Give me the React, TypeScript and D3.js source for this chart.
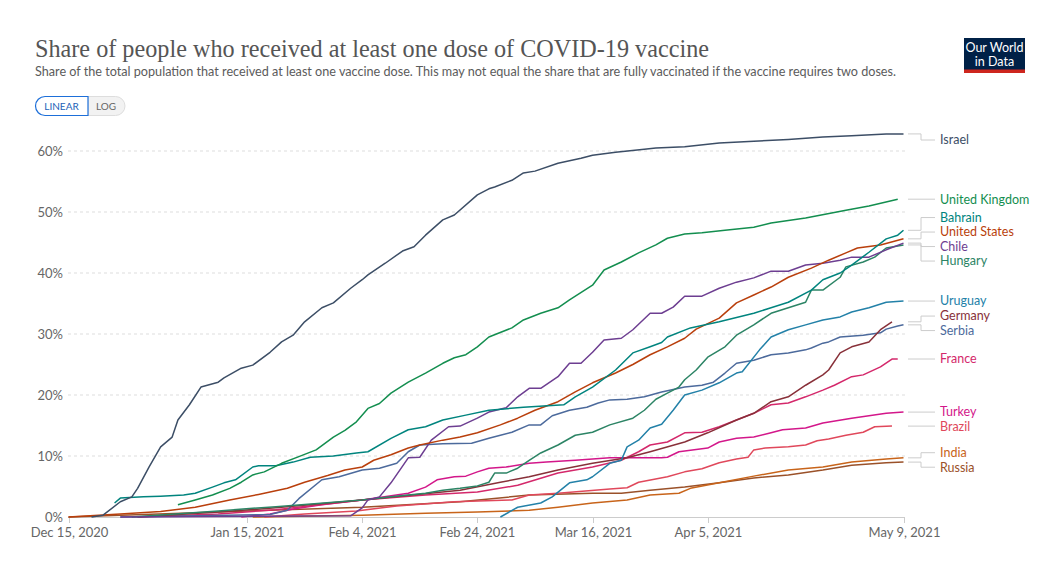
import React from "react";
import * as d3 from "d3";

type Pt = [string, number];

const israel: Pt[] = [["2020-12-19",0],["2020-12-21",0.3],["2020-12-24",2.5],["2020-12-26",3.3],["2020-12-27",4.7],["2020-12-29",8.2],["2020-12-31",11.5],["2021-01-02",13.1],["2021-01-03",15.9],["2021-01-05",18.4],["2021-01-07",21.3],["2021-01-10",22.1],["2021-01-11",22.8],["2021-01-14",24.4],["2021-01-16",24.9],["2021-01-19",27],["2021-01-21",28.7],["2021-01-23",29.8],["2021-01-25",32],["2021-01-28",34.3],["2021-01-30",35.1],["2021-02-02",37.5],["2021-02-04",38.9],["2021-02-05",39.7],["2021-02-08",41.6],["2021-02-11",43.6],["2021-02-13",44.3],["2021-02-15",46.2],["2021-02-18",48.7],["2021-02-20",49.5],["2021-02-24",52.8],["2021-02-26",53.8],["2021-02-27",54.1],["2021-03-02",55.2],["2021-03-04",56.4],["2021-03-06",56.7],["2021-03-10",58],["2021-03-14",58.8],["2021-03-16",59.3],["2021-03-20",59.8],["2021-03-25",60.3],["2021-03-27",60.5],["2021-04-01",60.7],["2021-04-07",61.3],["2021-04-13",61.6],["2021-04-19",61.9],["2021-04-25",62.3],["2021-04-30",62.5],["2021-05-06",62.8],["2021-05-09",62.8]];
const unitedKingdom: Pt[] = [["2021-01-03",2.0],["2021-01-06",2.8],["2021-01-09",3.6],["2021-01-12",4.7],["2021-01-14",5.7],["2021-01-16",6.9],["2021-01-18",7.4],["2021-01-21",8.8],["2021-01-24",9.9],["2021-01-27",11],["2021-01-30",13.1],["2021-02-01",14.2],["2021-02-03",15.6],["2021-02-05",17.8],["2021-02-07",18.6],["2021-02-09",20.3],["2021-02-12",22.1],["2021-02-15",23.6],["2021-02-18",25.2],["2021-02-20",26.1],["2021-02-22",26.6],["2021-02-24",27.9],["2021-02-26",29.5],["2021-03-02",31],["2021-03-04",32.3],["2021-03-07",33.4],["2021-03-10",34.3],["2021-03-12",35.6],["2021-03-16",38],["2021-03-18",40.5],["2021-03-21",41.8],["2021-03-24",43.3],["2021-03-27",44.6],["2021-03-29",45.7],["2021-04-01",46.4],["2021-04-04",46.6],["2021-04-08",47],["2021-04-13",47.5],["2021-04-16",48.2],["2021-04-22",49],["2021-04-29",50.3],["2021-05-03",51],["2021-05-08",52.1]];
const bahrain: Pt[] = [["2020-12-23",2.3],["2020-12-24",3.1],["2020-12-28",3.3],["2020-12-31",3.4],["2021-01-04",3.6],["2021-01-06",3.9],["2021-01-09",4.9],["2021-01-11",5.6],["2021-01-13",6.1],["2021-01-16",8.2],["2021-01-17",8.4],["2021-01-20",8.4],["2021-01-23",9],["2021-01-26",9.8],["2021-01-30",10],["2021-02-03",10.5],["2021-02-05",10.7],["2021-02-09",12.9],["2021-02-12",14.3],["2021-02-15",14.8],["2021-02-18",15.9],["2021-02-22",16.7],["2021-02-26",17.5],["2021-03-04",18],["2021-03-11",18.4],["2021-03-13",19.7],["2021-03-16",21.3],["2021-03-20",24.1],["2021-03-23",26.9],["2021-03-26",27.9],["2021-03-28",28.6],["2021-03-29",29.5],["2021-04-02",31],["2021-04-07",32],["2021-04-13",33.4],["2021-04-16",34.3],["2021-04-19",35.2],["2021-04-23",37.2],["2021-04-25",38.9],["2021-04-28",40],["2021-04-30",41.3],["2021-05-03",43.4],["2021-05-06",45.6],["2021-05-08",46.2],["2021-05-09",47]];
const unitedStates: Pt[] = [["2020-12-15",0],["2020-12-24",0.5],["2020-12-31",0.9],["2021-01-06",1.6],["2021-01-12",2.8],["2021-01-17",3.7],["2021-01-22",4.7],["2021-01-25",5.7],["2021-01-29",6.8],["2021-02-01",7.7],["2021-02-04",8.2],["2021-02-06",9.3],["2021-02-09",10.2],["2021-02-12",11.3],["2021-02-14",11.8],["2021-02-18",12.6],["2021-02-21",13.1],["2021-02-24",13.8],["2021-02-28",15.1],["2021-03-03",16.2],["2021-03-06",17.5],["2021-03-10",18.9],["2021-03-13",20.5],["2021-03-16",22],["2021-03-20",23.6],["2021-03-23",25],["2021-03-26",26.6],["2021-03-29",27.9],["2021-04-01",29.3],["2021-04-03",30.8],["2021-04-07",32.6],["2021-04-10",35.1],["2021-04-13",36.4],["2021-04-16",37.7],["2021-04-19",39.3],["2021-04-23",40.8],["2021-04-26",42.1],["2021-04-29",43.3],["2021-05-01",44.1],["2021-05-05",44.6],["2021-05-09",45.6]];
const chile: Pt[] = [["2020-12-24",0],["2021-02-02",0.2],["2021-02-04",1.5],["2021-02-05",2.8],["2021-02-07",3.3],["2021-02-09",5.6],["2021-02-12",9.7],["2021-02-14",9.8],["2021-02-16",12.6],["2021-02-19",14.8],["2021-02-21",14.9],["2021-02-24",16.2],["2021-02-26",17.2],["2021-03-01",17.9],["2021-03-03",19.7],["2021-03-05",21.1],["2021-03-07",21.1],["2021-03-10",23],["2021-03-12",25.2],["2021-03-14",25.2],["2021-03-16",27],["2021-03-18",29],["2021-03-21",29.3],["2021-03-23",30.7],["2021-03-26",33.4],["2021-03-28",33.4],["2021-03-30",34.4],["2021-04-01",36.2],["2021-04-04",36.2],["2021-04-07",37.5],["2021-04-10",38.5],["2021-04-13",39.2],["2021-04-16",40.3],["2021-04-19",40.3],["2021-04-22",41.3],["2021-04-25",41.6],["2021-04-28",42.1],["2021-04-30",42.6],["2021-05-03",42.6],["2021-05-06",43.8],["2021-05-09",44.9]];
const hungary: Pt[] = [["2020-12-26",0],["2021-01-10",1],["2021-01-20",1.7],["2021-02-04",2.8],["2021-02-09",3.3],["2021-02-15",3.9],["2021-02-18",4.4],["2021-02-21",4.7],["2021-02-24",5.1],["2021-02-26",5.7],["2021-02-27",7.2],["2021-03-01",7.2],["2021-03-03",8],["2021-03-05",9.3],["2021-03-07",10.5],["2021-03-10",11.8],["2021-03-13",13.4],["2021-03-16",13.9],["2021-03-19",15.1],["2021-03-23",16.2],["2021-03-25",17.5],["2021-03-27",19.3],["2021-03-29",20.3],["2021-03-31",21.3],["2021-04-01",22.5],["2021-04-03",24.1],["2021-04-05",26.2],["2021-04-08",27.9],["2021-04-10",29.8],["2021-04-13",31.5],["2021-04-16",33.4],["2021-04-19",34.3],["2021-04-22",35.2],["2021-04-23",37.2],["2021-04-25",37.2],["2021-04-28",39.3],["2021-04-29",41],["2021-05-02",41.8],["2021-05-04",42.6],["2021-05-06",44.1],["2021-05-09",44.6]];
const uruguay: Pt[] = [["2021-02-28",0],["2021-03-03",1.6],["2021-03-07",2.3],["2021-03-09",3.3],["2021-03-12",5.6],["2021-03-15",6.1],["2021-03-16",6.6],["2021-03-19",8.8],["2021-03-21",9.3],["2021-03-22",11.5],["2021-03-24",12.6],["2021-03-26",14.6],["2021-03-28",15.2],["2021-03-30",17.5],["2021-04-01",20],["2021-04-04",20.8],["2021-04-07",22],["2021-04-10",23.6],["2021-04-11",23.8],["2021-04-14",27.4],["2021-04-16",29.5],["2021-04-19",30.7],["2021-04-22",31.5],["2021-04-25",32.3],["2021-04-28",32.8],["2021-04-30",33.6],["2021-05-03",34.3],["2021-05-06",35.2],["2021-05-09",35.4]];
const germany: Pt[] = [["2020-12-27",0],["2021-01-10",0.8],["2021-01-20",1.5],["2021-02-04",2.8],["2021-02-21",4.4],["2021-02-28",5.7],["2021-03-05",6.6],["2021-03-10",7.7],["2021-03-16",8.8],["2021-03-22",9.7],["2021-03-26",10.7],["2021-04-01",12.3],["2021-04-05",13.8],["2021-04-10",15.9],["2021-04-13",17],["2021-04-16",18.9],["2021-04-19",19.7],["2021-04-22",21.6],["2021-04-25",23.3],["2021-04-26",24.1],["2021-04-28",26.9],["2021-04-30",27.9],["2021-05-03",28.7],["2021-05-05",30.7],["2021-05-07",32]];
const serbia: Pt[] = [["2020-12-24",0],["2021-01-19",0.4],["2021-01-22",1.1],["2021-01-24",3.0],["2021-01-28",6.1],["2021-01-31",6.6],["2021-02-04",7.7],["2021-02-07",8],["2021-02-10",8.8],["2021-02-12",10.7],["2021-02-14",11.8],["2021-02-18",12],["2021-02-23",12.1],["2021-02-26",12.9],["2021-02-28",13.4],["2021-03-02",13.9],["2021-03-05",15.1],["2021-03-07",15.1],["2021-03-09",16.6],["2021-03-12",17.5],["2021-03-15",18],["2021-03-17",18.7],["2021-03-19",19.2],["2021-03-22",19.3],["2021-03-25",19.7],["2021-03-28",20.5],["2021-04-01",21.3],["2021-04-04",21.6],["2021-04-06",22.1],["2021-04-08",23.6],["2021-04-10",25.2],["2021-04-13",25.7],["2021-04-16",26.6],["2021-04-19",26.9],["2021-04-22",27.4],["2021-04-23",27.7],["2021-04-25",28.5],["2021-04-26",28.7],["2021-04-28",29.5],["2021-05-02",29.8],["2021-05-05",30.2],["2021-05-06",30.8],["2021-05-08",31.3],["2021-05-09",31.5]];
const france: Pt[] = [["2020-12-27",0],["2021-01-10",0.5],["2021-01-20",1.2],["2021-02-04",2.8],["2021-02-15",3.6],["2021-02-24",4.1],["2021-03-03",5.2],["2021-03-10",7.2],["2021-03-16",8.2],["2021-03-21",9.3],["2021-03-24",10.7],["2021-03-26",11.8],["2021-03-29",12.3],["2021-04-01",13.8],["2021-04-04",13.9],["2021-04-07",14.8],["2021-04-10",15.9],["2021-04-13",17],["2021-04-16",18.4],["2021-04-19",18.7],["2021-04-22",19.7],["2021-04-25",20.8],["2021-04-27",21.6],["2021-04-30",23],["2021-05-02",23.3],["2021-05-05",24.6],["2021-05-07",25.9],["2021-05-08",25.9]];
const turkey: Pt[] = [["2021-01-14",0],["2021-01-19",0.5],["2021-01-23",1.3],["2021-01-28",2],["2021-02-04",2.8],["2021-02-12",3.9],["2021-02-15",4.9],["2021-02-17",6.1],["2021-02-20",6.6],["2021-02-22",6.7],["2021-02-24",7.4],["2021-02-26",8],["2021-03-01",8.2],["2021-03-05",8.8],["2021-03-08",9],["2021-03-13",9.3],["2021-03-19",9.7],["2021-03-28",9.7],["2021-03-29",9.8],["2021-03-31",10.7],["2021-04-05",11.3],["2021-04-07",12.3],["2021-04-10",12.9],["2021-04-13",13.1],["2021-04-16",13.8],["2021-04-18",14.3],["2021-04-22",14.6],["2021-04-25",15.4],["2021-04-30",16.2],["2021-05-03",16.6],["2021-05-06",17],["2021-05-09",17.2]];
const brazil: Pt[] = [["2021-01-18",0],["2021-01-25",0.5],["2021-02-03",1.0],["2021-02-10",1.8],["2021-02-20",2.5],["2021-03-02",2.8],["2021-03-05",3.6],["2021-03-10",3.9],["2021-03-19",4.6],["2021-03-22",4.8],["2021-03-24",5.7],["2021-03-29",6.6],["2021-04-01",7.4],["2021-04-04",7.9],["2021-04-07",8.9],["2021-04-10",9.5],["2021-04-12",9.8],["2021-04-13",11],["2021-04-15",11.3],["2021-04-19",11.5],["2021-04-22",11.8],["2021-04-24",12.5],["2021-04-26",12.8],["2021-04-29",13.4],["2021-05-02",13.9],["2021-05-04",14.8],["2021-05-07",14.9]];
const india: Pt[] = [["2021-01-16",0],["2021-02-04",0.3],["2021-02-15",0.6],["2021-02-24",0.8],["2021-03-05",1.1],["2021-03-10",1.6],["2021-03-16",2.3],["2021-03-22",2.8],["2021-03-26",3.6],["2021-03-31",3.9],["2021-04-02",4.7],["2021-04-07",5.6],["2021-04-13",6.7],["2021-04-19",7.7],["2021-04-25",8.2],["2021-04-30",9],["2021-05-06",9.5],["2021-05-09",9.7]];
const russia: Pt[] = [["2020-12-15",0],["2021-02-04",1.6],["2021-02-21",2.5],["2021-03-05",3.6],["2021-03-16",3.9],["2021-03-21",3.9],["2021-03-26",4.4],["2021-04-01",4.9],["2021-04-07",5.6],["2021-04-13",6.4],["2021-04-19",6.9],["2021-04-25",7.7],["2021-04-30",8.5],["2021-05-06",8.9],["2021-05-09",9]];

const countryNames = ["Israel","United Kingdom","Bahrain","United States","Chile","Hungary","Uruguay","Germany","Serbia","France","Turkey","Brazil","India","Russia"];
const countryColors = ["#3C4E66","#138E4F","#00847E","#B93F0C","#6D3E91","#2C8465","#2381A8","#883039","#4C6A9C","#D4286B","#D3178A","#E0485B","#C8641A","#9A5129"];
const countryData = [israel, unitedKingdom, bahrain, unitedStates, chile, hungary, uruguay, germany, serbia, france, turkey, brazil, india, russia];

const yTicks = [0, 10, 20, 30, 40, 50, 60];
const xTickDates = ["2020-12-15","2021-01-15","2021-02-04","2021-02-24","2021-03-16","2021-04-05","2021-05-09"];

const titleText = "Share of people who received at least one dose of COVID-19 vaccine";
const subtitleText = "Share of the total population that received at least one vaccine dose. This may not equal the share that are fully vaccinated if the vaccine requires two doses.";

const parse = d3.timeParse("%Y-%m-%d");
const fmt = d3.timeFormat("%b %-d, %Y");
const FONT = "Lato, 'Noto Sans', sans-serif";

export default function App() {
  const x = d3.scaleTime().domain([parse("2020-12-15")!, parse("2021-05-09")!]).range([68.5, 903.5]);
  const y = d3.scaleLinear().domain([0, 60]).range([517, 151]);
  const line = d3.line<Pt>().x(d => x(parse(d[0])!)).y(d => y(d[1]));

  const series = countryNames.map((name, i) => ({ name, color: countryColors[i], data: countryData[i] }));

  // label layout: cluster-based collision avoidance
  const gap = 14.5;
  const items = series.map(s => ({ name: s.name, color: s.color, target: y(s.data[s.data.length - 1][1]), pos: 0 }));
  items.sort((a, b) => a.target - b.target);
  let clusters = items.map(it => ({ items: [it], center: it.target }));
  let changed = true;
  while (changed) {
    changed = false;
    for (let i = 1; i < clusters.length; i++) {
      const a = clusters[i - 1], b = clusters[i];
      const aBottom = a.center + (a.items.length - 1) * gap / 2;
      const bTop = b.center - (b.items.length - 1) * gap / 2;
      if (bTop - aBottom < gap) {
        const all = [...a.items, ...b.items];
        const c = d3.mean(all, d => d.target)!;
        clusters.splice(i - 1, 2, { items: all, center: c });
        changed = true;
        break;
      }
    }
  }
  clusters.forEach(c => {
    const start = c.center - (c.items.length - 1) * gap / 2;
    c.items.forEach((it, k) => { it.pos = start + k * gap; });
  });
  items.forEach(it => { if (it.pos < 140) it.pos = 140; });

  return (
    <svg width={1056} height={574} style={{ position: "absolute", left: 0, top: 0, background: "#fff" }} fontFamily={FONT}>
      <text x={35} y={57} fontFamily="'Liberation Serif', 'DejaVu Serif', serif" fontSize={25} fill="#555" textLength={674} lengthAdjust="spacingAndGlyphs">{titleText}</text>
      <text x={35} y={76} fontSize={12.5} fill="#5b5b5b" textLength={861} lengthAdjust="spacingAndGlyphs">{subtitleText}</text>

      <g>
        <path d="M88,96.5 L115.5,96.5 A9.5,9.5 0 0 1 115.5,115.5 L88,115.5 Z" fill="#f2f2f2" stroke="#ddd" />
        <path d="M88,96.5 L45,96.5 A9.5,9.5 0 0 0 45,115.5 L88,115.5 Z" fill="#fff" stroke="#1d6fd9" strokeWidth={1.2} />
        <text x={61.5} y={109.5} fontSize={10} fill="#1d5fb8" textAnchor="middle">LINEAR</text>
        <text x={106} y={109.5} fontSize={10} fill="#666" textAnchor="middle">LOG</text>
      </g>

      <g>
        <rect x={964} y={38} width={61} height={35} fill="#002147" />
        <rect x={964} y={69.5} width={61} height={3.5} fill="#ce261e" />
        <text x={994.5} y={52} fontSize={12.5} fill="#fff" textAnchor="middle">Our World</text>
        <text x={994.5} y={66} fontSize={12.5} fill="#fff" textAnchor="middle">in Data</text>
      </g>

      {yTicks.map(t => (
        <g key={t}>
          {t !== 0 && <line x1={68} x2={905} y1={y(t)} y2={y(t)} stroke="#ddd" strokeDasharray="3,3" />}
          <text x={63} y={y(t)} dy="0.35em" fontSize={13} fill="#666" textAnchor="end">{t}%</text>
        </g>
      ))}

      <line x1={68} x2={905} y1={517.5} y2={517.5} stroke="#ccc" />
      {xTickDates.map(d => {
        const xx = Math.round(x(parse(d)!)) + 0.5;
        return (
          <g key={d}>
            <line x1={xx} x2={xx} y1={517} y2={523} stroke="#ccc" />
            <text x={xx} y={537} fontSize={13} fill="#666" textAnchor="middle">{fmt(parse(d)!)}</text>
          </g>
        );
      })}

      {series.slice().reverse().map(s => (
        <path key={s.name} d={line(s.data) || ""} fill="none" stroke={s.color} strokeWidth={1.5} strokeLinejoin="round" />
      ))}

      {items.map(it => {
        const straight = Math.abs(it.pos - it.target) < 1;
        const dPath = straight
          ? `M908,${it.target} L935,${it.target}`
          : `M908,${it.target} L921,${it.target} L921,${it.pos} L935,${it.pos}`;
        return (
          <g key={it.name}>
            <path d={dPath} fill="none" stroke="#ccc" />
            <text x={940} y={it.pos} dy="0.35em" fontSize={12.5} fill={it.color}>{it.name}</text>
          </g>
        );
      })}
    </svg>
  );
}
